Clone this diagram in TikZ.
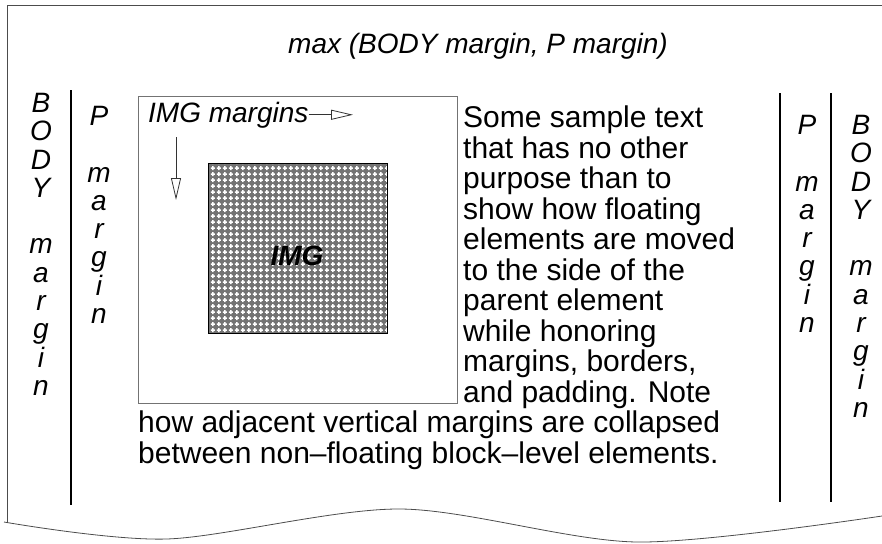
\documentclass[tikz,border=0pt]{standalone}
\usepackage{fontspec}
\setmainfont{Liberation Sans}
\usetikzlibrary{arrows.meta,patterns}

\pgfdeclarepatternformonly{imgcross}{\pgfqpoint{0pt}{0pt}}{\pgfqpoint{6.4pt}{6.4pt}}{\pgfqpoint{6.4pt}{6.4pt}}{%
  \pgfpathrectangle{\pgfqpoint{2.4pt}{1.0pt}}{\pgfqpoint{1.6pt}{4.4pt}}%
  \pgfpathrectangle{\pgfqpoint{1.0pt}{2.4pt}}{\pgfqpoint{4.4pt}{1.6pt}}%
  \pgfusepath{fill}}

\tikzset{
  lbl/.style={font=\fontsize{28}{28.3}\selectfont\itshape, inner sep=0pt, align=center},
  body/.style={font=\fontsize{30}{30.5}\selectfont, inner sep=0pt, align=left},
  edge/.style={draw=black!70, line width=0.8pt},
  rule/.style={line width=2.5pt},
  box/.style={draw=black!55, line width=0.8pt, inner sep=0pt},
  imgbox/.style={draw, line width=0.8pt, inner sep=0pt, preaction={fill=black!55},
    pattern=imgcross, pattern color=white},
  ptr/.style={draw=black!80, line width=0.8pt, -{Triangle[open, length=22pt, width=10pt]}}
}

\begin{document}
\begin{tikzpicture}[x=1pt,y=-1pt]
  \useasboundingbox (0,0) rectangle (882,543);
  % page edge
  \draw[edge] (882,5) -- (7,5) -- (7,523);
  \draw[edge] plot[smooth] coordinates {(4,522) (167,539) (400,509) (637,542) (882,516)};
  % margin rules
  \draw[rule] (71,90) -- (71,505);
  \draw[rule] (780,93) -- (780,502);
  \draw[rule] (831,93) -- (831,502);
  % labels
  \draw
    (478,53) node[lbl, anchor=base] (max) {max (BODY margin, P margin)}
    (41,93) node[lbl, anchor=north] (bodyl) {B\\O\\D\\Y\\[28.3pt]m\\a\\r\\g\\i\\n}
    (99,106) node[lbl, anchor=north] (pl) {P\\[28.3pt]m\\a\\r\\g\\i\\n}
    (807,115) node[lbl, anchor=north] (pr) {P\\[28.3pt]m\\a\\r\\g\\i\\n}
    (861,115) node[lbl, anchor=north] (bodyr) {B\\O\\D\\Y\\[28.3pt]m\\a\\r\\g\\i\\n};
  % floated image
  \node[box, minimum width=319pt, minimum height=307pt] (float) at (297.5,249.5) {};
  \node[imgbox, minimum width=179pt, minimum height=170pt] (img) at (297.5,248) {};
  \node[lbl, font=\fontsize{28}{28.3}\selectfont\bfseries\itshape] (imgt) at (297,256) {IMG};
  \node[lbl, anchor=base west] (imgm) at (148,122) {IMG margins};
  \coordinate (hend) at (353,116);
  \coordinate (vtop) at (176,137);
  \coordinate (vend) at (176,200);
  \draw[ptr] (imgm.east) -- (imgm.east -| hend);
  \draw[ptr] (vtop) -- (vend);
  % text
  \node[body, anchor=north west] (side) at (463,106) {Some sample text\\that has no other\\purpose than to\\show how floating\\elements are moved\\to the side of the\\parent element\\while honoring\\margins, borders,\\and padding. Note};
  \node[body, anchor=north west] (below) at (138,411) {how adjacent vertical margins are collapsed\\between non–floating block–level elements.};
\end{tikzpicture}
\end{document}
